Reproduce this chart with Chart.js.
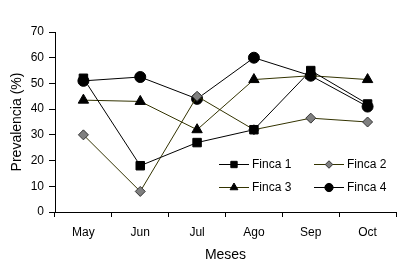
<!DOCTYPE html>
<html><head><meta charset="utf-8">
<script src="https://cdn.jsdelivr.net/npm/chart.js@4"></script>
<style>html,body{margin:0;padding:0;background:#fff}#w{width:407px;height:264px}</style>
</head><body><div id="w"><canvas id="c" width="407" height="264"></canvas></div>
<script>
const categories = ['May','Jun','Jul','Ago','Sep','Oct'];
const finca1 = [52, 18, 27, 32, 55, 42];
const finca2 = [30, 8, 45, 32, 36.5, 35];
const finca3 = [43.5, 43, 32, 51.5, 53, 51.5];
const finca4 = [51, 52.5, 44, 60, 53, 41];
const yTicks = [0,10,20,30,40,50,60,70];
const seriesNames = ['Finca 1','Finca 2','Finca 3','Finca 4'];

const FONT = 'Liberation Sans, Arial, sans-serif';
const styles = [
  {line:'#000000', style:'rect', r:6, fill:'#000', stroke:'#000'},
  {line:'#333300', style:'rectRot', r:5, fill:'#808080', stroke:'#333333'},
  {line:'#333300', style:'triangle', r:6, fill:'#000', stroke:'#000'},
  {line:'#000000', style:'circle', r:5.5, fill:'#000', stroke:'#000'}
];
const dataArr = [finca1, finca2, finca3, finca4];

const legendPlugin = {
  id: 'customLegend',
  afterDraw(chart) {
    const ctx = chart.ctx;
    const items = [
      {x:219, y:164, i:0},{x:314, y:164, i:1},
      {x:219, y:187, i:2},{x:314, y:187, i:3}
    ];
    ctx.save();
    items.forEach(it => {
      const s = styles[it.i];
      ctx.strokeStyle = s.line; ctx.lineWidth = 1;
      ctx.beginPath(); ctx.moveTo(it.x, it.y+0.5); ctx.lineTo(it.x+30, it.y+0.5); ctx.stroke();
      ctx.fillStyle = s.fill; ctx.strokeStyle = s.stroke;
      Chart.helpers.drawPoint(ctx, {pointStyle:s.style, radius:s.r*0.75, borderWidth:1}, it.x+15, it.y+0.5);
      ctx.fillStyle = '#000';
      ctx.font = '12px ' + FONT;
      ctx.textBaseline = 'middle'; ctx.textAlign = 'left';
      ctx.fillText(seriesNames[it.i], it.x+33, it.y+1);
    });
    ctx.restore();
  }
};

new Chart(document.getElementById('c'), {
  type: 'line',
  data: {
    labels: categories,
    datasets: dataArr.map((d,i) => ({
      label: seriesNames[i],
      data: d,
      borderColor: styles[i].line,
      borderWidth: 1,
      pointStyle: styles[i].style,
      pointRadius: styles[i].r,
      pointBackgroundColor: styles[i].fill,
      pointBorderColor: styles[i].stroke,
      pointBorderWidth: 1,
      tension: 0,
      fill: false
    }))
  },
  options: {
    responsive: false,
    animation: false,
    layout: {padding: {top: 32, right: 11, left: 0, bottom: 0}},
    plugins: {legend: {display: false}, tooltip: {enabled: false}},
    scales: {
      x: {
        offset: true,
        grid: {display: true, offset: true, drawOnChartArea: false, color: '#000', tickLength: 5},
        border: {display: true, color: '#000', width: 1},
        ticks: {color: '#000', font: {family: FONT, size: 12}, padding: 8, maxRotation: 0},
        title: {display: true, text: 'Meses', color: '#000', font: {family: FONT, size: 14}, padding: {top: 2, bottom: 0}},
        afterFit(s) { s.height = 52; }
      },
      y: {
        min: 0, max: 70,
        afterBuildTicks(s) { s.ticks = yTicks.map(v => ({value: v})); },
        grid: {display: true, drawOnChartArea: false, color: '#000', tickLength: 6},
        border: {display: true, color: '#000', width: 1},
        ticks: {color: '#000', font: {family: FONT, size: 12}, padding: 5},
        title: {display: true, text: 'Prevalencia (%)', color: '#000', font: {family: FONT, size: 14}, padding: {top: 9, bottom: 0}},
        afterFit(s) { s.width = 55; }
      }
    }
  },
  plugins: [legendPlugin]
});
</script>
</body></html>
